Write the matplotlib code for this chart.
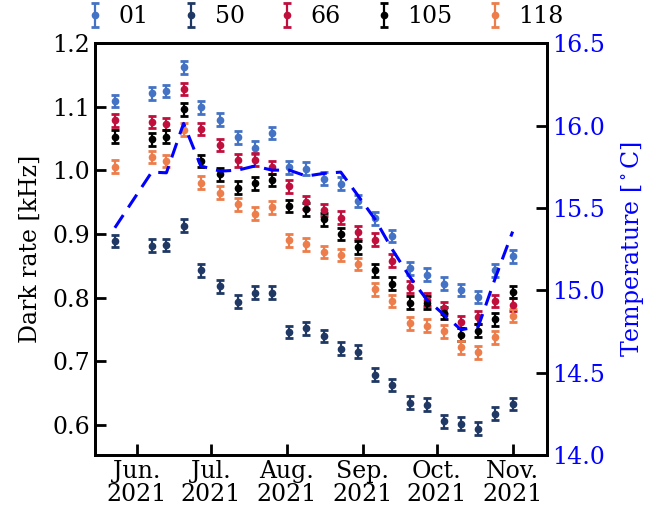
import numpy as np
import matplotlib
matplotlib.use("Agg")
import matplotlib.pyplot as plt

plt.rcParams['font.family'] = 'DejaVu Serif'
plt.rcParams['mathtext.fontset'] = 'dejavuserif'

dates = np.array(['2021-05-23', '2021-06-07', '2021-06-13', '2021-06-20', '2021-06-27',
                  '2021-07-05', '2021-07-12', '2021-07-19', '2021-07-26', '2021-08-02',
                  '2021-08-09', '2021-08-16', '2021-08-23', '2021-08-30', '2021-09-06',
                  '2021-09-13', '2021-09-20', '2021-09-27', '2021-10-04', '2021-10-11',
                  '2021-10-18', '2021-10-25', '2021-11-01'], dtype='datetime64[D]')

rate_01 = [1.109, 1.121, 1.125, 1.162, 1.099, 1.080, 1.052, 1.036, 1.059, 1.005, 1.003, 0.987,
           0.979, 0.952, 0.925, 0.897, 0.846, 0.836, 0.822, 0.812, 0.801, 0.843, 0.865]
rate_50 = [0.889, 0.882, 0.883, 0.913, 0.843, 0.818, 0.794, 0.808, 0.808, 0.746, 0.752, 0.740,
           0.720, 0.715, 0.679, 0.663, 0.635, 0.632, 0.606, 0.602, 0.594, 0.618, 0.633]
rate_66 = [1.079, 1.076, 1.073, 1.128, 1.065, 1.040, 1.016, 1.017, 1.005, 0.975, 0.950, 0.938,
           0.926, 0.903, 0.891, 0.858, 0.817, 0.797, 0.784, 0.762, 0.769, 0.795, 0.789]
rate_105 = [1.053, 1.049, 1.053, 1.096, 1.015, 0.994, 0.973, 0.980, 0.985, 0.944, 0.939, 0.923,
            0.900, 0.879, 0.843, 0.822, 0.792, 0.792, 0.776, 0.742, 0.748, 0.766, 0.809]
rate_118 = [1.006, 1.021, 1.015, 1.064, 0.981, 0.965, 0.947, 0.932, 0.942, 0.890, 0.884, 0.872,
            0.867, 0.853, 0.813, 0.795, 0.760, 0.756, 0.747, 0.722, 0.714, 0.738, 0.772]
rate_err = 0.01

temperature = [15.379, 15.717, 15.713, 16.013, 15.754, 15.723, 15.729, 15.754, 15.729, 15.729,
               15.693, 15.709, 15.717, 15.575, 15.43, 15.247, 15.083, 14.943, 14.852, 14.760,
               14.779, 15.077, 15.356]

series = [('01', rate_01, '#4472c4'),
          ('50', rate_50, '#203864'),
          ('66', rate_66, '#c00f3c'),
          ('105', rate_105, '#000000'),
          ('118', rate_118, '#ed7d4b')]

month_ticks = np.array(['2021-06-01', '2021-07-01', '2021-08-01', '2021-09-01',
                        '2021-10-01', '2021-11-01'], dtype='datetime64[D]')
month_labels = ['Jun.\n2021', 'Jul.\n2021', 'Aug.\n2021', 'Sep.\n2021', 'Oct.\n2021', 'Nov.\n2021']

fig = plt.figure(figsize=(6.52, 5.14), dpi=100)
ax = fig.add_axes([0.146, 0.115, 0.693, 0.801])
ax2 = ax.twinx()

for name, vals, col in series:
    ax.errorbar(dates, vals, yerr=rate_err, fmt='o', color=col, ms=4.5, elinewidth=1.6,
                capsize=3, capthick=2, label=name, zorder=3)

ax2.plot(dates, temperature, color='blue', ls='--', lw=2.2, dashes=(5, 3))

ax.set_xlim(np.datetime64('2021-05-15'), np.datetime64('2021-11-15'))
ax.set_ylim(0.553, 1.2)
ax2.set_ylim(14.0, 16.5)
ax.set_xticks(month_ticks)
ax.set_xticklabels(month_labels, linespacing=1.0)
ax.set_yticks([0.6, 0.7, 0.8, 0.9, 1.0, 1.1, 1.2])
ax.set_yticklabels(['0.6', '0.7', '0.8', '0.9', '1.0', '1.1', '1.2'])
ax2.set_yticks([14.0, 14.5, 15.0, 15.5, 16.0, 16.5])
ax2.set_yticklabels(['14.0', '14.5', '15.0', '15.5', '16.0', '16.5'])

ax.set_ylabel('Dark rate [kHz]', fontsize=17, labelpad=8)
ax2.set_ylabel(r'Temperature [$^\circ$C]', fontsize=17, color='blue', labelpad=10)

ax.tick_params(direction='in', length=8, width=2, labelsize=17)
ax2.tick_params(direction='in', length=8, width=2, labelsize=17, colors='black', labelcolor='blue')
for a in (ax, ax2):
    for s in a.spines.values():
        s.set_linewidth(2)

ax.legend(loc='lower center', bbox_to_anchor=(0.505, 0.985), ncol=5, frameon=False,
          fontsize=17, handletextpad=0.5, columnspacing=1.3, handlelength=1.0)

fig.savefig('out.png', dpi=100)
